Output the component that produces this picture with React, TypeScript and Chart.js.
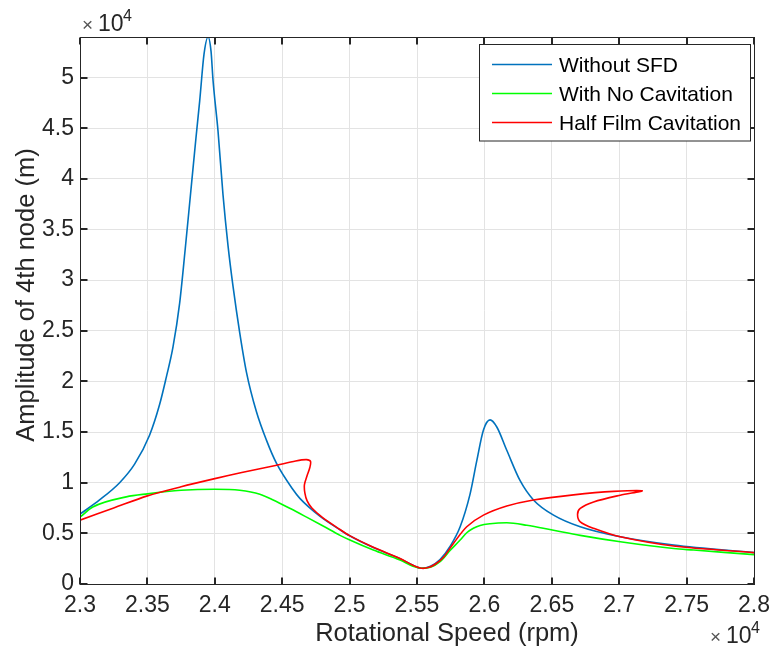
import React, { useEffect, useRef } from "react";
import { Chart, registerables } from "chart.js";

Chart.register(...registerables);

// Rotational speed (rpm) / amplitude pairs along each response curve
const withoutSFD: [number, number][] = [
  [23000, 6900], [23145, 8300], [23294, 10000], [23405, 11830], [23516, 14690],
  [23591, 17740], [23640, 20400], [23690, 23400], [23739, 27700], [23780, 33000],
  [23820, 38500], [23860, 44000], [23888, 47700], [23920, 52300], [23950, 54000],
  [23972, 52600], [23987, 49700], [24024, 44700], [24061, 38400], [24098, 33400],
  [24135, 29400], [24185, 24800], [24235, 20900], [24309, 17000], [24383, 14200],
  [24458, 11900], [24581, 9300], [24631, 8450], [24779, 6700], [24929, 5350],
  [25000, 4760], [25176, 3600], [25374, 2500], [25470, 1850], [25535, 1550],
  [25600, 1750], [25671, 2400], [25745, 3700], [25820, 5650], [25894, 8900],
  [25944, 12200], [25993, 15200], [26042, 16200], [26092, 15500], [26166, 13200],
  [26265, 10200], [26364, 8300], [26513, 6800], [26711, 5650], [27008, 4660],
  [27404, 3840], [28000, 3100],
];

const noCavitation: [number, number][] = [
  [23000, 6600], [23095, 7600], [23343, 8600], [23500, 8900], [23750, 9250],
  [24000, 9360], [24185, 9260], [24334, 8870], [24433, 8300], [24560, 7450],
  [24681, 6600], [24800, 5750], [24929, 4800], [25002, 4340], [25176, 3350],
  [25374, 2370], [25470, 1750], [25535, 1550], [25600, 1650], [25671, 2200],
  [25745, 3300], [25820, 4340], [25869, 5060], [25918, 5500], [25968, 5780],
  [26042, 5950], [26166, 6040], [26315, 5800], [26513, 5300], [26711, 4800],
  [27008, 4170], [27404, 3500], [27553, 3350], [28000, 2900],
];

const halfFilmCavitation: [number, number][] = [
  [23000, 6300], [23250, 7500], [23500, 8700], [23750, 9600], [24000, 10400],
  [24200, 11000], [24450, 11700], [24600, 12150], [24680, 12280], [24710, 12100],
  [24705, 11500], [24685, 10700], [24665, 9800], [24668, 9000], [24685, 8200],
  [24720, 7500], [24800, 6550], [24929, 5380], [25000, 4780], [25176, 3620],
  [25374, 2520], [25470, 1850], [25535, 1550], [25590, 1650], [25640, 2000],
  [25700, 2700], [25770, 4000], [25869, 5650], [25993, 6800], [26166, 7700],
  [26364, 8300], [26661, 8800], [26958, 9140], [27170, 9200], [27008, 8770],
  [26810, 8100], [26711, 7460], [26691, 6870], [26711, 6140], [26810, 5500],
  [27008, 4660], [27404, 3750], [28000, 3100],
];

const seriesNames = ["Without SFD", "With No Cavitation", "Half Film Cavitation"];
const seriesColors = ["#0072BD", "#00FF00", "#FF0000"];
const xTicks = [23000, 23500, 24000, 24500, 25000, 25500, 26000, 26500, 27000, 27500, 28000];
const yTicks = [0, 5000, 10000, 15000, 20000, 25000, 30000, 35000, 40000, 45000, 50000];
const xRange = [23000, 28000];
const yRange = [0, 54000];
const axisLabelX = "Rotational Speed (rpm)";
const axisLabelY = "Amplitude of 4th node (m)";

const FONT = "'Liberation Sans', Arial, Helvetica, sans-serif";
const INK = "#262626";

const fmt = (v: number) => String(parseFloat((v / 1e4).toFixed(2)));

// Box, inward ticks, axis titles, exponent labels and legend
const decorations = {
  id: "decorations",
  afterDraw(chart: any) {
    const { ctx, chartArea: a, scales } = chart;
    const xs = scales.x;
    const ys = scales.y;
    const L = Math.round(a.left) + 0.5;
    const R = Math.round(a.right) + 0.5;
    const T = Math.round(a.top) + 0.5;
    const B = Math.round(a.bottom) + 0.5;
    ctx.save();
    ctx.strokeStyle = INK;
    ctx.lineWidth = 1;
    ctx.strokeRect(L, T, R - L, B - T);
    ctx.lineWidth = 2;
    ctx.beginPath();
    for (const t of xs.ticks) {
      const px = Math.round(xs.getPixelForValue(t.value));
      ctx.moveTo(px, B); ctx.lineTo(px, B - 7);
      ctx.moveTo(px, T); ctx.lineTo(px, T + 7);
    }
    for (const t of ys.ticks) {
      const py = Math.round(ys.getPixelForValue(t.value));
      ctx.moveTo(L, py); ctx.lineTo(L + 7, py);
      ctx.moveTo(R, py); ctx.lineTo(R - 7, py);
    }
    ctx.stroke();

    // axis titles
    ctx.fillStyle = INK;
    ctx.font = `25.5px ${FONT}`;
    ctx.textAlign = "center";
    ctx.textBaseline = "alphabetic";
    ctx.fillText(axisLabelX, 447, 641);
    ctx.save();
    ctx.translate(34, 295);
    ctx.rotate(-Math.PI / 2);
    ctx.fillText(axisLabelY, 0, 0);
    ctx.restore();

    // exponent labels
    const exponent = (x: number, y: number) => {
      ctx.textAlign = "left";
      ctx.font = `19px ${FONT}`;
      ctx.fillStyle = "#555";
      ctx.fillText("\u00d7", x, y);
      ctx.fillStyle = INK;
      ctx.font = `23px ${FONT}`;
      ctx.fillText("10", x + 16, y);
      ctx.font = `16px ${FONT}`;
      ctx.fillText("4", x + 41, y - 10);
    };
    exponent(82, 31);
    exponent(710, 643);

    // legend
    const bx = 479.5, by = 44.5, bw = 271, bh = 96.5;
    ctx.fillStyle = "#ffffff";
    ctx.fillRect(bx, by, bw, bh);
    ctx.strokeStyle = INK;
    ctx.lineWidth = 1;
    ctx.strokeRect(bx, by, bw, bh);
    ctx.font = `21px ${FONT}`;
    ctx.textAlign = "left";
    chart.data.datasets.forEach((ds: any, i: number) => {
      const ry = Math.round(63.5 + i * 29.2) + 0.5;
      ctx.strokeStyle = ds.borderColor;
      ctx.lineWidth = 1.5;
      ctx.beginPath();
      ctx.moveTo(492, ry);
      ctx.lineTo(552, ry);
      ctx.stroke();
      ctx.fillStyle = "#000";
      ctx.fillText(ds.label, 559, ry + 7);
    });
    ctx.restore();
  },
};

const fixedTicks = (values: number[]) => (scale: any) => {
  scale.ticks = values.map((value) => ({ value }));
};

export default function App() {
  const ref = useRef<HTMLCanvasElement | null>(null);

  useEffect(() => {
    if (!ref.current) return;
    const toPts = (arr: [number, number][]) => arr.map(([x, y]) => ({ x, y }));
    const series = [withoutSFD, noCavitation, halfFilmCavitation];
    const chart = new Chart(ref.current, {
      type: "scatter",
      data: {
        datasets: series.map((s, i) => ({
          label: seriesNames[i],
          data: toPts(s),
          showLine: true,
          borderColor: seriesColors[i],
          backgroundColor: seriesColors[i],
          borderWidth: 1.6,
          pointRadius: 0,
          // the cavitation curve folds back on itself, so it keeps a plain bezier
          cubicInterpolationMode: i === 2 ? "default" : "monotone",
          tension: i === 2 ? 0.3 : 0.4,
          order: 2 - i,
        })),
      },
      options: {
        animation: false,
        responsive: false,
        devicePixelRatio: 1,
        layout: { padding: { left: 0, top: 37, right: 24, bottom: 0 } },
        plugins: { legend: { display: false }, tooltip: { enabled: false } },
        scales: {
          x: {
            type: "linear",
            min: xRange[0],
            max: xRange[1],
            afterBuildTicks: fixedTicks(xTicks),
            afterFit: (s: any) => { s.height = 69; },
            grid: { color: "#e3e3e3", lineWidth: 1, drawTicks: false },
            border: { display: false },
            ticks: {
              autoSkip: false,
              maxRotation: 0,
              padding: 8,
              color: INK,
              font: { family: FONT, size: 23 },
              callback: (v: any) => fmt(Number(v)),
            },
          },
          y: {
            type: "linear",
            min: yRange[0],
            max: yRange[1],
            afterBuildTicks: fixedTicks(yTicks),
            afterFit: (s: any) => { s.width = 80; },
            grid: { color: "#e3e3e3", lineWidth: 1, drawTicks: false },
            border: { display: false },
            ticks: {
              autoSkip: false,
              padding: 6,
              color: INK,
              font: { family: FONT, size: 23 },
              callback: (v: any) => fmt(Number(v)),
            },
          },
        },
      },
      plugins: [decorations],
    });
    return () => chart.destroy();
  }, []);

  return (
    <div style={{ position: "absolute", left: 0, top: 0, width: 778, height: 653, background: "#fff" }}>
      <canvas ref={ref} width={778} height={653} style={{ width: 778, height: 653 }} />
    </div>
  );
}
